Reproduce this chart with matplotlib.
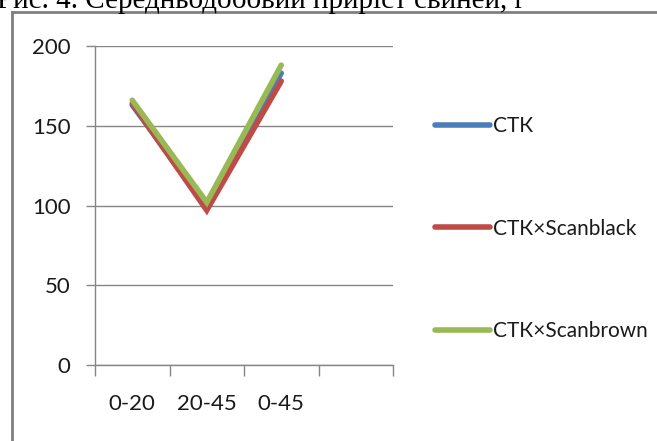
import matplotlib
matplotlib.use("Agg")
import matplotlib.pyplot as plt
from matplotlib.lines import Line2D

categories = ["0-20", "20-45", "0-45", ""]
series_names = ["СТК", "СТК×Scanblack", "СТК×Scanbrown"]
ctk = [163, 99, 183]
ctk_scanblack = [164, 97, 178]
ctk_scanbrown = [166, 102, 188]
colors = ["#4A7EBB", "#BE4B48", "#98B954"]

W, H = 657, 441
fig = plt.figure(figsize=(W / 100, H / 100), dpi=100)

font = ["Lato", "DejaVu Sans"]
grey = "#868686"
fs = 16

# caption, clipped at the top edge as in the reference
fig.text(-0.005, 1 - 8 / H, "Рис. 4. Середньодобовий приріст свиней, г",
         family=["Liberation Serif", "DejaVu Serif"], fontsize=21,
         ha="left", va="baseline", color="black")

# outer frame (left and top edges)
fig.add_artist(Line2D([12 / W, 12 / W], [0, 1 - 12 / H], transform=fig.transFigure,
                      color="#808080", lw=2))
fig.add_artist(Line2D([12 / W, 1], [1 - 12 / H, 1 - 12 / H], transform=fig.transFigure,
                      color="#808080", lw=2))

ax = fig.add_axes([95 / W, 1 - 365 / H, (393 - 95) / W, (365 - 46) / H])
x = list(range(len(categories)))
series = [ctk, ctk_scanblack, ctk_scanbrown]
for name, vals, c in zip(series_names, series, colors):
    ax.plot(x[:len(vals)], vals, color=c, lw=4, solid_capstyle="round",
            solid_joinstyle="miter", label=name)

ax.set_xlim(-0.5, len(categories) - 0.5)
ax.set_ylim(0, 200)
ax.set_yticks([0, 50, 100, 150, 200])
ax.yaxis.grid(True, color=grey, lw=1)
ax.set_axisbelow(True)
for s in ["top", "right"]:
    ax.spines[s].set_visible(False)
for s in ["left", "bottom"]:
    ax.spines[s].set_color(grey)
    ax.spines[s].set_linewidth(1)

ax.set_xticks([i - 0.5 for i in range(len(categories) + 1)])
ax.set_xticklabels([])
ax.set_xticks(x, minor=True)
ax.set_xticklabels(categories, minor=True)
ax.tick_params(axis="x", which="major", length=8, color=grey, width=1, direction="out")
ax.tick_params(axis="x", which="minor", length=0, pad=21)
ax.tick_params(axis="y", length=6.5, color=grey, width=1, pad=11)
for lab in ax.get_yticklabels() + ax.get_xticklabels(minor=True):
    lab.set_fontfamily(font)
    lab.set_fontsize(fs)
    lab.set_color("#1a1a1a")

handles = [Line2D([0], [0], color=c, lw=4, solid_capstyle="round") for c in colors]
leg = fig.legend(handles, series_names, loc="upper left",
                 bbox_to_anchor=(427 / W, 1 - 108 / H), frameon=False,
                 borderaxespad=0, handlelength=2.6, handletextpad=0.15,
                 labelspacing=3.95, prop={"family": font, "size": 15})
for t in leg.get_texts():
    t.set_color("#1a1a1a")

fig.savefig("out.png", dpi=100)
